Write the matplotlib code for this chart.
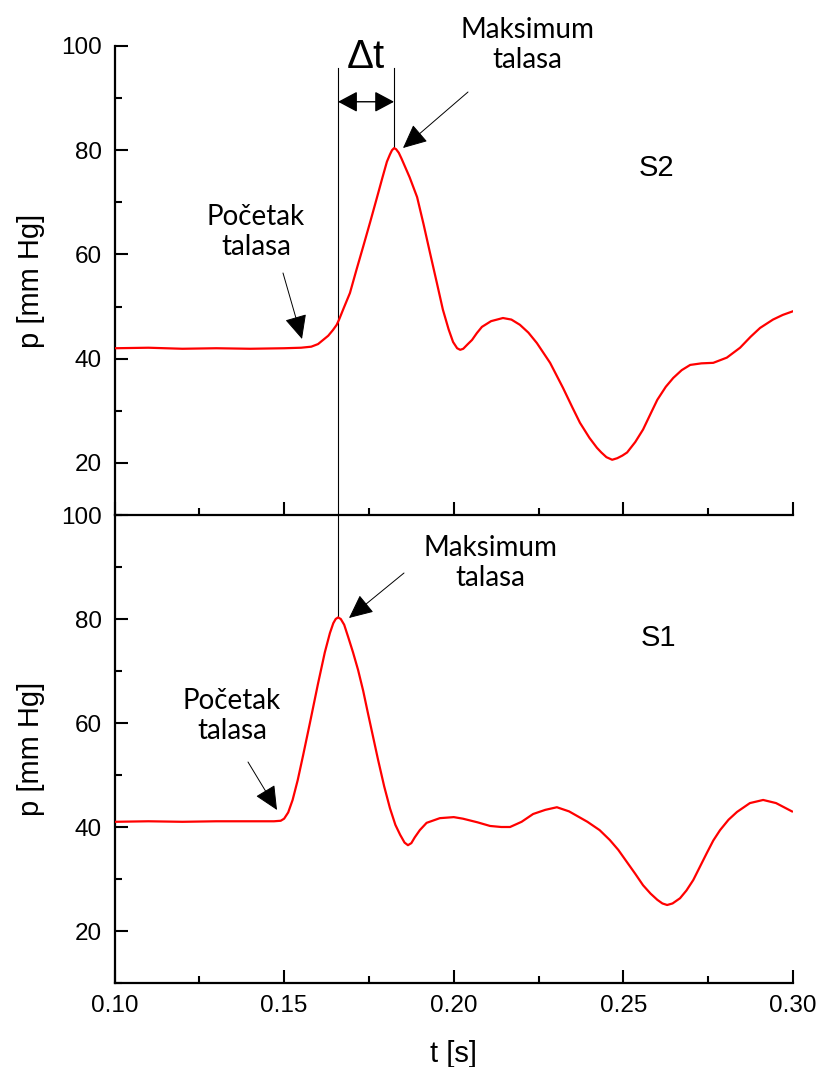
import numpy as np
import matplotlib
matplotlib.use("Agg")
import matplotlib.pyplot as plt
from matplotlib.ticker import MultipleLocator

# Pressure waveforms p(t) at two measurement sites
t_s2 = [0.100, 0.110, 0.120, 0.130, 0.140, 0.150, 0.155, 0.158, 0.1600, 0.1615,
        0.1630, 0.1644, 0.1655, 0.1662, 0.1675, 0.1694, 0.1713, 0.1733, 0.1754, 0.1774,
        0.1790, 0.1803, 0.1812, 0.1818, 0.1824, 0.1830, 0.1838, 0.1846, 0.1856, 0.1870,
        0.1892, 0.1911, 0.1930, 0.1950, 0.1968, 0.1985, 0.1998, 0.2010, 0.2019, 0.2028,
        0.2040, 0.2054, 0.2068, 0.2083, 0.2110, 0.2145, 0.2170, 0.2195, 0.2220, 0.2245,
        0.2284, 0.2322, 0.2350, 0.2372, 0.2400, 0.2422, 0.2435, 0.2450, 0.2467, 0.2482,
        0.2497, 0.2511, 0.2535, 0.2558, 0.2580, 0.2600, 0.2625, 0.2647, 0.2672, 0.2697,
        0.2730, 0.2765, 0.2805, 0.2844, 0.2875, 0.2903, 0.2941, 0.2970, 0.3000]
p_s2 = [42.0, 42.1, 41.9, 42.0, 41.9, 42.0, 42.1, 42.3, 42.8, 43.6,
        44.4, 45.5, 46.5, 47.5, 49.6, 52.6, 57.0, 61.5, 66.3, 71.0,
        74.8, 77.8, 79.2, 80.0, 80.4, 80.2, 79.5, 78.4, 76.9, 74.8,
        71.0, 65.8, 60.3, 54.6, 49.4, 45.6, 43.2, 42.0, 41.7, 41.9,
        42.7, 43.6, 44.9, 46.1, 47.2, 47.8, 47.5, 46.5, 45.0, 43.0,
        39.2, 34.4, 30.6, 27.7, 24.8, 22.9, 22.0, 21.1, 20.6, 20.9,
        21.4, 22.0, 24.0, 26.4, 29.4, 32.1, 34.6, 36.3, 37.8, 38.8,
        39.1, 39.2, 40.2, 42.1, 44.2, 45.9, 47.5, 48.4, 49.1]

t_s1 = [0.100, 0.110, 0.120, 0.130, 0.140, 0.147, 0.1490, 0.1500, 0.1512, 0.1525,
        0.1540, 0.1556, 0.1576, 0.1600, 0.1620, 0.1635, 0.1645, 0.1652, 0.1659, 0.1667,
        0.1677, 0.1689, 0.1703, 0.1718, 0.1733, 0.1747, 0.1762, 0.1777, 0.1795, 0.1812,
        0.1828, 0.1842, 0.1855, 0.1865, 0.1875, 0.1885, 0.1900, 0.1920, 0.1959, 0.2000,
        0.2027, 0.2070, 0.2107, 0.2140, 0.2166, 0.2200, 0.2234, 0.2270, 0.2304, 0.2340,
        0.2394, 0.2430, 0.2460, 0.2485, 0.2510, 0.2535, 0.2558, 0.2580, 0.2600, 0.2615,
        0.2629, 0.2645, 0.2667, 0.2686, 0.2706, 0.2726, 0.2746, 0.2765, 0.2785, 0.2810,
        0.2835, 0.2873, 0.2912, 0.2950, 0.2997]
p_s1 = [41.0, 41.1, 41.0, 41.1, 41.1, 41.1, 41.2, 41.6, 42.8, 45.2,
        49.0, 53.8, 60.0, 67.6, 73.6, 77.3, 79.2, 80.0, 80.3, 80.0,
        78.9, 76.5, 73.6, 70.2, 66.2, 61.9, 57.4, 52.9, 47.8, 43.6,
        40.4, 38.5, 37.0, 36.5, 36.9, 38.0, 39.4, 40.8, 41.7, 41.9,
        41.6, 40.9, 40.2, 40.0, 40.0, 41.0, 42.5, 43.3, 43.8, 43.0,
        41.0, 39.4, 37.5, 35.6, 33.3, 31.0, 28.8, 27.2, 26.0, 25.3,
        25.0, 25.3, 26.3, 27.8, 29.8, 32.4, 35.0, 37.4, 39.4, 41.4,
        42.9, 44.6, 45.2, 44.6, 43.0]

x_ticks = [0.10, 0.15, 0.20, 0.25, 0.30]
x_ticklabels = ["0.10", "0.15", "0.20", "0.25", "0.30"]
y_ticks = [20, 40, 60, 80, 100]

W, H = 817, 1067
fig = plt.figure(figsize=(W / 100, H / 100), dpi=100)
plt.rcParams['font.family'] = ['Liberation Sans', 'DejaVu Sans']

left, width = 114.5 / W, (793 - 114.5) / W
ax_top = fig.add_axes([left, 1 - 515 / H, width, (515 - 46) / H])
ax_bot = fig.add_axes([left, 1 - 983 / H, width, (983 - 515) / H])

red = '#ff0000'
ax_top.plot(t_s2, p_s2, color=red, lw=1.6, zorder=3, solid_joinstyle='round')
ax_bot.plot(t_s1, p_s1, color=red, lw=1.6, zorder=3, solid_joinstyle='round')

for ax in (ax_top, ax_bot):
    ax.set_xlim(0.10, 0.30)
    ax.set_ylim(10, 100)
    ax.spines['right'].set_visible(False)
    ax.spines['top'].set_visible(False)
    ax.spines['left'].set_linewidth(1.6)
    ax.spines['bottom'].set_linewidth(1.6)
    ax.set_xticks(x_ticks)
    ax.xaxis.set_minor_locator(MultipleLocator(0.025))
    ax.set_yticks(y_ticks)
    ax.yaxis.set_minor_locator(MultipleLocator(10))
    ax.tick_params(which='major', direction='in', length=9.5, width=1.5,
                   labelsize=17.5, pad=9)
    ax.tick_params(which='minor', direction='in', length=5, width=1.5)
    ax.set_ylabel('p [mm Hg]', fontsize=21, labelpad=12)
    ax.patch.set_alpha(0)

ax_top.tick_params(axis='x', labelbottom=False)
ax_bot.set_xticklabels(x_ticklabels)
ax_bot.set_xlabel('t [s]', fontsize=21, labelpad=16)

# Peak times of both waves
i2 = int(np.argmax(p_s2))
i1 = int(np.argmax(p_s1))
t2_pk, p2_pk = t_s2[i2], p_s2[i2]
t1_pk, p1_pk = t_s1[i1], p_s1[i1]

line_top = 95.8
ax_bot.plot([t1_pk, t1_pk], [p1_pk, 100], color='black', lw=0.8, clip_on=False, zorder=2)
ax_top.plot([t1_pk, t1_pk], [10, line_top], color='black', lw=0.8, clip_on=False, zorder=2)
ax_top.plot([t2_pk, t2_pk], [p2_pk, line_top], color='black', lw=0.8, clip_on=False, zorder=2)

# Delta t marker between the two peaks
ax_top.annotate('', xy=(t2_pk, 89.3), xytext=(t1_pk, 89.3), xycoords='data',
                arrowprops=dict(arrowstyle='<|-|>,head_length=0.6,head_width=0.32',
                                mutation_scale=20, color='black', lw=1.0,
                                shrinkA=0, shrinkB=0))
ax_top.text((t1_pk + t2_pk) / 2, 97.9, 'Δt', fontsize=29, ha='center', va='center',
            clip_on=False)


def fpx(x, y):
    return (x / W, 1 - y / H)


note_font = dict(family=['Lato', 'DejaVu Sans'], fontsize=20, ha='center', va='center',
                 linespacing=1.15)
arrow_kw = dict(arrowstyle='-|>,head_length=0.75,head_width=0.35', mutation_scale=20,
                color='black', lw=0.7, shrinkA=0, shrinkB=0)

fig.text(*fpx(527, 45), 'Maksimum\ntalasa', **note_font)
fig.text(*fpx(256, 232), 'Početak\ntalasa', **note_font)
fig.text(*fpx(490, 563), 'Maksimum\ntalasa', **note_font)
fig.text(*fpx(232, 716), 'Početak\ntalasa', **note_font)

for tail, tip in [((468, 92), (403, 148)), ((283, 273), (302, 339)),
                  ((404, 573), (349, 618)), ((248, 762), (277, 810))]:
    fig.add_artist(matplotlib.patches.FancyArrowPatch(
        fpx(*tail), fpx(*tip), transform=fig.transFigure, **arrow_kw))

fig.text(*fpx(657, 168), 'S2', fontsize=21, ha='center', va='center')
fig.text(*fpx(658, 638), 'S1', fontsize=21, ha='center', va='center')

fig.savefig('out.png', dpi=100)
